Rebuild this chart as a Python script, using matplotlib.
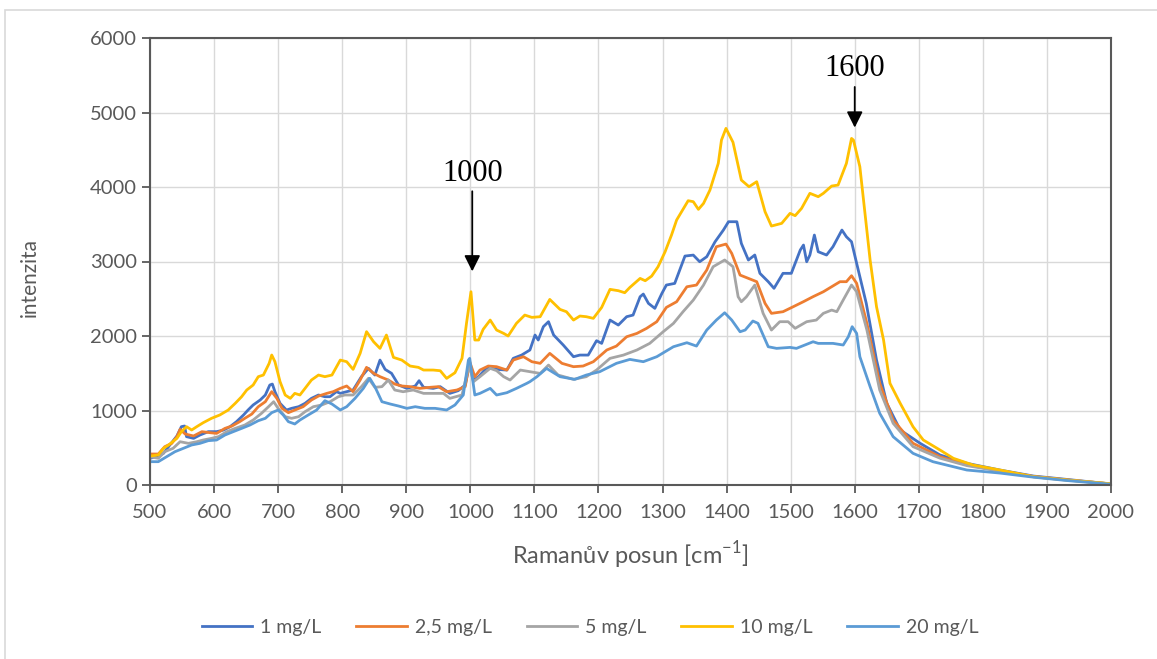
import matplotlib
matplotlib.use('Agg')
import matplotlib.pyplot as plt
from matplotlib.patches import Rectangle

# values (Raman shift [cm-1], intensity)
x_1 = [500, 513, 521, 531, 542, 549, 554, 557, 568, 578, 591, 604, 615, 625, 635, 646, 653, 661,
       672, 680, 687, 691, 695, 703, 713, 721, 732, 742, 752, 763, 773, 781, 791, 797, 817, 830,
       841, 851, 859, 867, 877, 888, 901, 914, 920, 927, 942, 953, 968, 981, 992, 999, 1005, 1013,
       1026, 1041, 1057, 1067, 1080, 1093, 1101, 1106, 1114, 1122, 1130, 1145, 1161, 1171, 1184,
       1197, 1205, 1218, 1231, 1244, 1254, 1265, 1270, 1278, 1288, 1299, 1306, 1319, 1335, 1348,
       1358, 1369, 1382, 1395, 1403, 1416, 1423, 1434, 1444, 1452, 1465, 1474, 1488, 1501, 1515,
       1520, 1525, 1530, 1537, 1543, 1556, 1566, 1580, 1587, 1595, 1603, 1618, 1634, 1650, 1671,
       1702, 1733, 1775, 1827, 1879, 1931, 1993, 2000]
y_1 = [358, 389, 425, 537, 658, 783, 792, 649, 626, 671, 716, 716, 738, 783, 850, 940, 1006, 1074,
       1141, 1208, 1342, 1355, 1253, 1096, 1006, 1029, 1051, 1096, 1163, 1208, 1185, 1185, 1253,
       1230, 1275, 1454, 1566, 1476, 1677, 1552, 1499, 1342, 1297, 1329, 1400, 1311, 1297, 1320,
       1230, 1266, 1342, 1633, 1409, 1454, 1579, 1552, 1543, 1700, 1744, 1812, 2013, 1946, 2125,
       2192, 2013, 1879, 1722, 1744, 1744, 1937, 1901, 2214, 2147, 2259, 2281, 2527, 2563, 2438,
       2371, 2572, 2684, 2706, 3073, 3086, 2997, 3064, 3265, 3422, 3534, 3534, 3243, 3020, 3087,
       2841, 2729, 2640, 2841, 2841, 3154, 3221, 2997, 3087, 3355, 3131, 3087, 3198, 3422, 3332,
       3265, 2975, 2438, 1678, 1096, 738, 560, 403, 291, 200, 120, 75, 20, 10]

x_2_5 = [500, 513, 523, 534, 542, 547, 555, 568, 581, 594, 604, 617, 628, 640, 648, 659, 669, 680,
         690, 698, 706, 716, 726, 739, 752, 763, 776, 786, 797, 807, 817, 828, 838, 849, 859, 872,
         882, 893, 906, 921, 937, 950, 963, 979, 992, 999, 1007, 1015, 1028, 1041, 1057, 1067,
         1083, 1096, 1109, 1124, 1143, 1161, 1176, 1192, 1213, 1228, 1244, 1260, 1275, 1291, 1306,
         1322, 1338, 1353, 1369, 1384, 1399, 1408, 1421, 1447, 1460, 1470, 1488, 1504, 1520, 1535,
         1551, 1577, 1587, 1595, 1603, 1619, 1639, 1660, 1691, 1733, 1775, 1827, 1879, 1931, 1993,
         2000]
y_2_5 = [416, 416, 514, 559, 649, 747, 684, 658, 716, 702, 693, 760, 792, 850, 895, 953, 1051, 1118,
         1253, 1163, 1029, 971, 1006, 1051, 1141, 1194, 1230, 1253, 1297, 1329, 1252, 1409, 1579,
         1499, 1454, 1409, 1355, 1329, 1320, 1297, 1311, 1320, 1252, 1275, 1320, 1655, 1454, 1543,
         1597, 1588, 1543, 1677, 1722, 1655, 1633, 1767, 1633, 1588, 1597, 1655, 1812, 1865, 1990,
         2035, 2102, 2192, 2384, 2460, 2661, 2684, 2885, 3198, 3234, 3109, 2818, 2729, 2438, 2304,
         2326, 2393, 2461, 2528, 2594, 2729, 2729, 2809, 2707, 2170, 1365, 872, 560, 380, 270, 190,
         115, 70, 20, 10]

x_5 = [500, 513, 523, 536, 547, 560, 573, 583, 596, 607, 620, 633, 648, 661, 674, 685, 693, 700,
       711, 721, 732, 742, 755, 768, 781, 794, 804, 817, 830, 841, 851, 862, 872, 882, 895, 911,
       927, 942, 958, 968, 987, 998, 1005, 1015, 1031, 1041, 1052, 1062, 1078, 1093, 1109, 1122,
       1137, 1161, 1181, 1197, 1218, 1239, 1260, 1280, 1301, 1317, 1332, 1348, 1364, 1379, 1397,
       1410, 1418, 1423, 1431, 1444, 1457, 1470, 1483, 1496, 1507, 1525, 1540, 1551, 1564, 1572,
       1582, 1595, 1603, 1619, 1639, 1660, 1691, 1733, 1775, 1827, 1879, 1931, 1993, 2000]
y_5 = [380, 358, 447, 492, 581, 559, 581, 604, 626, 649, 716, 760, 805, 872, 962, 1051, 1118, 1029,
       917, 895, 917, 984, 1051, 1074, 1118, 1185, 1208, 1208, 1320, 1432, 1311, 1320, 1409, 1275,
       1252, 1275, 1230, 1230, 1230, 1163, 1208, 1610, 1387, 1454, 1566, 1535, 1454, 1409, 1543,
       1521, 1498, 1610, 1476, 1418, 1454, 1543, 1700, 1744, 1812, 1901, 2057, 2169, 2326, 2482,
       2684, 2930, 3020, 2930, 2527, 2460, 2527, 2684, 2304, 2080, 2192, 2192, 2103, 2192, 2214,
       2304, 2348, 2326, 2483, 2684, 2594, 2080, 1275, 828, 515, 360, 260, 185, 110, 65, 20, 10]

x_10 = [500, 513, 521, 529, 542, 549, 557, 565, 573, 583, 596, 609, 622, 633, 643, 651, 661, 669,
        677, 686, 690, 695, 703, 711, 719, 726, 734, 742, 752, 763, 773, 784, 797, 807, 817, 828,
        838, 849, 859, 869, 880, 893, 906, 919, 927, 942, 953, 963, 976, 987, 994, 1001, 1007,
        1013, 1020, 1031, 1041, 1052, 1059, 1072, 1085, 1096, 1109, 1124, 1140, 1150, 1161, 1171,
        1181, 1192, 1205, 1218, 1231, 1241, 1249, 1265, 1273, 1283, 1293, 1304, 1314, 1322, 1340,
        1348, 1356, 1364, 1374, 1387, 1392, 1399, 1410, 1423, 1435, 1447, 1460, 1470, 1486, 1499,
        1507, 1517, 1530, 1543, 1551, 1564, 1574, 1587, 1595, 1598, 1608, 1624, 1634, 1645, 1655,
        1671, 1691, 1707, 1733, 1754, 1785, 1827, 1879, 1931, 1993, 2000]
y_10 = [389, 403, 492, 537, 626, 716, 783, 738, 783, 836, 895, 940, 1006, 1096, 1185, 1275, 1342,
        1454, 1476, 1633, 1745, 1655, 1387, 1208, 1163, 1230, 1208, 1297, 1409, 1476, 1454, 1476,
        1677, 1655, 1552, 1767, 2058, 1923, 1834, 2013, 1713, 1677, 1597, 1579, 1543, 1543, 1534,
        1431, 1507, 1700, 2170, 2594, 1946, 1946, 2089, 2214, 2080, 2035, 2000, 2170, 2281, 2250,
        2259, 2491, 2357, 2326, 2214, 2268, 2259, 2237, 2384, 2626, 2608, 2581, 2652, 2773, 2742,
        2804, 2930, 3131, 3355, 3557, 3816, 3803, 3700, 3780, 3959, 4317, 4630, 4787, 4600, 4093,
        4004, 4071, 3668, 3476, 3512, 3646, 3615, 3713, 3915, 3870, 3915, 4013, 4026, 4317, 4652,
        4630, 4272, 3020, 2393, 1946, 1365, 1096, 782, 604, 470, 358, 268, 201, 111, 67, 22, 15]

x_20 = [500, 513, 526, 539, 552, 565, 578, 591, 604, 617, 630, 643, 656, 669, 680, 690, 700, 708,
        716, 726, 734, 747, 760, 773, 784, 797, 807, 820, 833, 843, 851, 862, 875, 888, 901, 914,
        929, 945, 963, 976, 989, 997, 999, 1007, 1015, 1031, 1041, 1057, 1072, 1088, 1093, 1104,
        1119, 1140, 1163, 1181, 1202, 1228, 1249, 1270, 1291, 1317, 1338, 1353, 1369, 1384, 1397,
        1408, 1421, 1429, 1441, 1449, 1465, 1478, 1499, 1509, 1535, 1543, 1566, 1582, 1590, 1596,
        1603, 1608, 1624, 1639, 1660, 1691, 1722, 1775, 1827, 1879, 1931, 1993, 2000]
y_20 = [313, 313, 380, 447, 492, 537, 559, 595, 604, 671, 716, 760, 805, 863, 895, 971, 1006, 940,
        850, 819, 872, 940, 1006, 1132, 1087, 1007, 1051, 1163, 1297, 1432, 1320, 1118, 1087, 1060,
        1029, 1051, 1029, 1029, 1007, 1074, 1208, 1677, 1700, 1208, 1230, 1297, 1208, 1239, 1297,
        1364, 1387, 1454, 1565, 1454, 1418, 1476, 1521, 1633, 1686, 1655, 1722, 1856, 1910, 1865,
        2080, 2214, 2312, 2214, 2057, 2080, 2201, 2170, 1856, 1834, 1847, 1834, 1923, 1901, 1901,
        1879, 1990, 2125, 2035, 1722, 1320, 962, 648, 425, 313, 201, 160, 105, 60, 15, 8]

series = [
    ('1 mg/L', x_1, y_1, '#4472C4'),
    ('2,5 mg/L', x_2_5, y_2_5, '#ED7D31'),
    ('5 mg/L', x_5, y_5, '#A5A5A5'),
    ('10 mg/L', x_10, y_10, '#FFC000'),
    ('20 mg/L', x_20, y_20, '#5B9BD5'),
]

font = ['Lato', 'DejaVu Sans']
plt.rcParams['font.family'] = font
axis_col = '#595959'

fig = plt.figure(figsize=(11.57, 6.59), dpi=100)
fig.patches.append(Rectangle((5 / 1157, -0.1), 1.2, 1.1 - 10 / 659, transform=fig.transFigure,
                             fill=False, edgecolor='#D9D9D9', lw=1.2))
ax = fig.add_axes([150 / 1157, 1 - 485 / 659, 961 / 1157, 447 / 659])

for name, xs, ys, col in series:
    ax.plot(xs, ys, color=col, lw=2.0, label=name, solid_joinstyle='round')

ax.set_xlim(500, 2000)
ax.set_ylim(0, 6000)
ax.set_xticks(range(500, 2001, 100))
ax.set_yticks(range(0, 6001, 1000))
ax.grid(True, color='#D9D9D9', lw=1)
ax.set_axisbelow(True)
for s in ax.spines.values():
    s.set_color(axis_col)
    s.set_linewidth(1.5)
ax.tick_params(direction='out', length=6, width=1.3, color=axis_col, labelcolor=axis_col,
               labelsize=14.5)
ax.tick_params(axis='x', pad=8)

ax.set_ylabel('intenzita', fontsize=15, color=axis_col)
ax.yaxis.set_label_coords(-0.115, 0.465)
ax.set_xlabel('Ramanův posun [cm$^{\\mathregular{-1}}$]', fontsize=17, color=axis_col,
              labelpad=13)

# peak markers
ax.annotate('', xy=(1003, 2830), xytext=(1003, 3980),
            arrowprops=dict(arrowstyle='-|>', color='black', lw=1.3, mutation_scale=24))
ax.text(1003, 3990, '1000', ha='center', va='bottom', fontsize=22, family='Liberation Serif')
ax.annotate('', xy=(1600, 4760), xytext=(1600, 5380),
            arrowprops=dict(arrowstyle='-|>', color='black', lw=1.3, mutation_scale=24))
ax.text(1600, 5390, '1600', ha='center', va='bottom', fontsize=22, family='Liberation Serif')

fig.legend(loc='center', bbox_to_anchor=(0.51, 1 - 627 / 659), ncol=5, frameon=False,
           fontsize=14, handlelength=2.6, columnspacing=1.8, handletextpad=0.4,
           labelcolor=axis_col)

fig.savefig('out.png', dpi=100)
